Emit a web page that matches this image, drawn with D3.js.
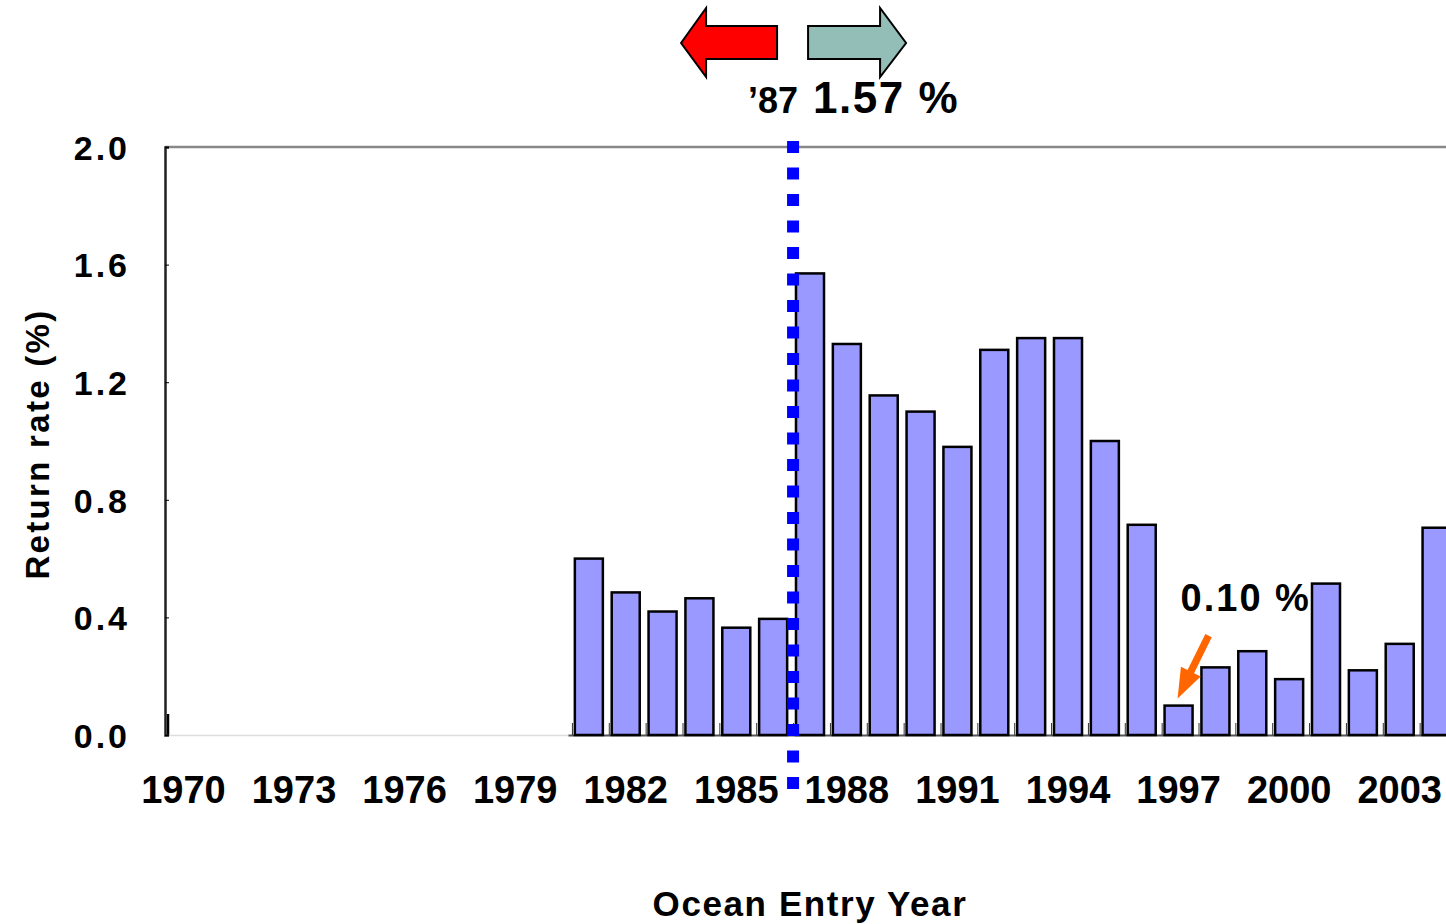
<!DOCTYPE html>
<html>
<head>
<meta charset="utf-8">
<script src="https://cdn.jsdelivr.net/npm/d3@7"></script>
<style>
  html, body { margin: 0; padding: 0; background: #fff; overflow: hidden; }
  svg { display: block; font-family: "Liberation Sans", Arial, Helvetica, sans-serif; font-weight: bold; }
</style>
</head>
<body>
<svg id="chart" width="1446" height="924"></svg>
<script>
// Ocean entry years shown on the axis
const years = d3.range(1970, 2005);
const tickYears = d3.range(1970, 2004, 3);
// Return rate (%) by ocean entry year (bars start in 1981)
const barYears = d3.range(1981, 2005);
const returnRates = [0.60, 0.485, 0.42, 0.465, 0.365, 0.395, 1.57, 1.33, 1.155, 1.10, 0.98, 1.31,
                     1.35, 1.35, 1.00, 0.715, 0.10, 0.23, 0.285, 0.19, 0.515, 0.22, 0.31, 0.705];
const yTicks = [0, 0.4, 0.8, 1.2, 1.6, 2.0];
const splitYear = 1987;   // regime shift marker
const peakLabel = { year: 1987, text: "1.57 %" };
const lowLabel = { year: 1997, text: "0.10 %" };

const svg = d3.select("#chart");
const plotL = 165, plotR = 1455, plotT = 147, plotB = 735;

const x = d3.scaleBand().domain(years).range([plotL, plotR]).paddingInner(0.24).paddingOuter(0.12);
const y = d3.scaleLinear().domain([0, 2]).range([plotB, plotT]);
const step = x.step();
const bound = yr => x(yr) - x.paddingOuter() * step;   // left edge of a year's slot

// frame: top border and baseline
svg.append("line").attr("x1", plotL).attr("x2", 1446).attr("y1", plotT).attr("y2", plotT)
  .attr("stroke", "#888").attr("stroke-width", 2.5);
svg.append("line").attr("x1", plotL).attr("x2", bound(1981) - 2).attr("y1", plotB + 0.5).attr("y2", plotB + 0.5)
  .attr("stroke", "#ddd").attr("stroke-width", 1.5);
svg.append("line").attr("x1", bound(1981) - 2).attr("x2", 1446).attr("y1", plotB + 0.5).attr("y2", plotB + 0.5)
  .attr("stroke", "#555").attr("stroke-width", 2);

// small category ticks along the baseline
svg.append("g").selectAll("line").data(barYears).join("line")
  .attr("x1", d => bound(d) + 2).attr("x2", d => bound(d) + 2)
  .attr("y1", plotB).attr("y2", plotB - 12)
  .attr("stroke", "#333").attr("stroke-width", 1);
svg.append("line").attr("x1", plotL + 3).attr("x2", plotL + 3).attr("y1", plotB).attr("y2", plotB - 21)
  .attr("stroke", "#000").attr("stroke-width", 2.5);

// bars
svg.append("g").selectAll("rect").data(barYears).join("rect")
  .attr("x", d => x(d))
  .attr("width", x.bandwidth())
  .attr("y", (d, i) => y(returnRates[i]))
  .attr("height", (d, i) => y(0) - y(returnRates[i]))
  .attr("fill", "#9999ff")
  .attr("stroke", "#000")
  .attr("stroke-width", 2.5);

// y axis
const yAxis = svg.append("g").attr("transform", `translate(${plotL},0)`)
  .call(d3.axisLeft(y).tickValues(yTicks).tickFormat(d3.format(".1f")).tickSize(-4).tickPadding(35));
yAxis.select(".domain").attr("stroke", "#222").attr("stroke-width", 2.5);
yAxis.selectAll(".tick line").attr("stroke", "#000").attr("stroke-width", 1);
yAxis.selectAll(".tick text").attr("font-size", 34).attr("letter-spacing", 3)
  .attr("fill", "#000").attr("font-family", null).attr("dy", "0.36em");

// x axis
const xAxis = svg.append("g").attr("transform", `translate(0,${plotB})`)
  .call(d3.axisBottom(x).tickValues(tickYears).tickSize(0).tickPadding(44));
xAxis.select(".domain").remove();
xAxis.selectAll(".tick text").attr("font-size", 38).attr("fill", "#000")
  .attr("font-family", null).attr("dy", "0.36em").attr("y", 54);

// axis titles
svg.append("text").attr("transform", "translate(49,444) rotate(-90)")
  .attr("text-anchor", "middle").attr("font-size", 33).attr("letter-spacing", 2.3).text("Return rate (%)");
svg.append("text").attr("x", 810).attr("y", 916)
  .attr("text-anchor", "middle").attr("font-size", 35).attr("letter-spacing", 1.6).text("Ocean Entry Year");

// dotted regime-shift line
const xs = bound(splitYear) + 1.5;
svg.append("line").attr("x1", xs).attr("x2", xs).attr("y1", plotT - 6).attr("y2", plotB + 55)
  .attr("stroke", "#0000ff").attr("stroke-width", 12).attr("stroke-dasharray", "12 14.5");

// direction arrows above the chart
const redArrow = [[0, 0], [-71, 0], [-71, -18], [-96, 17], [-71, 51], [-71, 33], [0, 33]];
svg.append("polygon")
  .attr("points", redArrow.map(p => [xs - 16 + p[0], 26 + p[1]].join(",")).join(" "))
  .attr("fill", "#ff0000").attr("stroke", "#000").attr("stroke-width", 2).attr("stroke-linejoin", "miter");
const tealArrow = [[0, 0], [72, 0], [72, -18], [98, 17], [72, 51], [72, 33], [0, 33]];
svg.append("polygon")
  .attr("points", tealArrow.map(p => [xs + 15 + p[0], 26 + p[1]].join(",")).join(" "))
  .attr("fill", "#93bdb7").attr("stroke", "#000").attr("stroke-width", 2).attr("stroke-linejoin", "miter");

// peak annotation
svg.append("text").attr("x", xs - 45).attr("y", 113).attr("font-size", 36).text("\u201987");
svg.append("text").attr("x", xs + 20).attr("y", 113).attr("font-size", 44).attr("letter-spacing", 1.5)
  .text(peakLabel.text);

// low-point annotation with orange arrow
const lowVal = returnRates[barYears.indexOf(lowLabel.year)];
const lx = x(lowLabel.year) + x.bandwidth() / 2;
svg.append("text").attr("x", lx + 2).attr("y", 611).attr("font-size", 38).attr("letter-spacing", 2)
  .text(lowLabel.text);
const tip = [lx - 1, y(lowVal) - 7];
const tail = [tip[0] + 31, tip[1] - 63];
const ang = Math.atan2(tip[1] - tail[1], tip[0] - tail[0]);
const ux = Math.cos(ang), uy = Math.sin(ang), px = -uy, py = ux;
const headLen = 30, headW = 11, shaftW = 3.6;
const hb = [tip[0] - ux * headLen, tip[1] - uy * headLen];
const arrowPts = [
  [tail[0] + px * shaftW, tail[1] + py * shaftW],
  [hb[0] + px * shaftW, hb[1] + py * shaftW],
  [hb[0] + px * headW, hb[1] + py * headW],
  tip,
  [hb[0] - px * headW, hb[1] - py * headW],
  [hb[0] - px * shaftW, hb[1] - py * shaftW],
  [tail[0] - px * shaftW, tail[1] - py * shaftW]
];
svg.append("polygon").attr("points", arrowPts.map(p => p.join(",")).join(" ")).attr("fill", "#ff6600");
</script>
</body>
</html>
